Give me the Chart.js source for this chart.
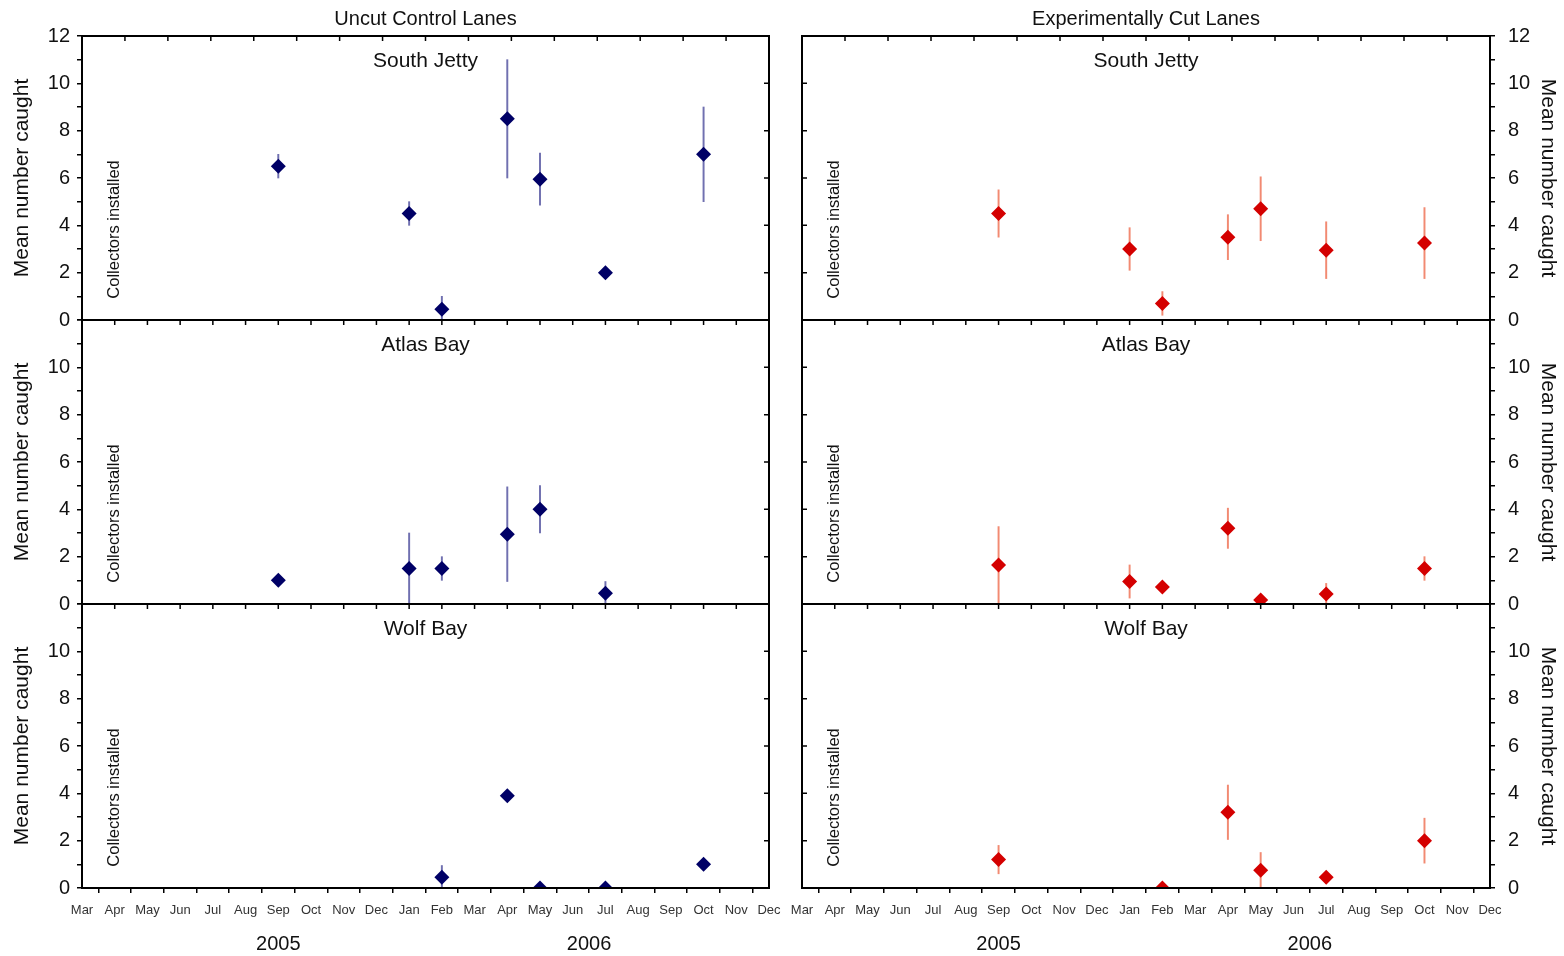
<!DOCTYPE html>
<html>
<head>
<meta charset="utf-8">
<script src="https://cdn.jsdelivr.net/npm/chart.js@4.4.1/dist/chart.umd.min.js"></script>
<style>
  body { margin: 0; background: #fff; }
  #fig { position: relative; width: 1564px; height: 956px; overflow: hidden; background: #fff; }
  #fig canvas { position: absolute; }
</style>
</head>
<body>
<div id="fig"></div>
<script>
// month index 0 = Mar 2005 ... 21 = Dec 2006
var months = ["Mar","Apr","May","Jun","Jul","Aug","Sep","Oct","Nov","Dec","Jan","Feb",
              "Mar","Apr","May","Jun","Jul","Aug","Sep","Oct","Nov","Dec"];
var years = ["2005", "2006"];
var yearAt = [6, 15.5];
var sites = ["South Jetty", "Atlas Bay", "Wolf Bay"];
var groups = ["Uncut Control Lanes", "Experimentally Cut Lanes"];
var installedAt = 1;

// Uncut control lanes
var uncutSJx = [6, 10, 11, 13, 14, 16, 19];
var uncutSJ = [6.5, 4.5, 0.45, 8.5, 5.95, 2.0, 7.0];
var uncutSJerr = [0.5, 0.5, 0.55, 2.5, 1.1, 0.05, 2.0];

var uncutABx = [6, 10, 11, 13, 14, 16];
var uncutAB = [1.0, 1.5, 1.5, 2.95, 4.0, 0.45];
var uncutABerr = [0.1, 1.5, 0.5, 2.0, 1.0, 0.5];

var uncutWBx = [11, 13, 14, 16, 19];
var uncutWB = [0.45, 3.9, 0, 0, 1.0];
var uncutWBerr = [0.5, 0.05, 0, 0, 0.05];

// Experimentally cut lanes
var cutSJx = [6, 10, 11, 13, 14, 16, 19];
var cutSJ = [4.5, 3.0, 0.7, 3.5, 4.7, 2.95, 3.25];
var cutSJerr = [1.0, 0.9, 0.5, 0.95, 1.35, 1.2, 1.5];

var cutABx = [6, 10, 11, 13, 14, 16, 19];
var cutAB = [1.65, 0.95, 0.72, 3.2, 0.17, 0.42, 1.5];
var cutABerr = [1.62, 0.7, 0.15, 0.85, 0.15, 0.45, 0.5];

var cutWBx = [6, 11, 13, 14, 16, 19];
var cutWB = [1.2, 0, 3.2, 0.75, 0.45, 2.0];
var cutWBerr = [0.6, 0, 1.15, 0.75, 0.25, 0.95];

var pointColors = ["#000066", "#d40000"];
var errColors = ["#7070b0", "#f28a72"];
var FONT = "'Liberation Sans', Arial, sans-serif";

// frame, inner ticks, titles, notes
var panelDecor = {
  id: "panelDecor",
  afterDraw: function (chart, args, opts) {
    var ctx = chart.ctx, a = chart.chartArea;
    var xs = chart.scales.x, ys = chart.scales.y;
    ctx.save();
    ctx.strokeStyle = "#000";
    ctx.lineWidth = 2;
    ctx.strokeRect(a.left, a.top, a.right - a.left, a.bottom - a.top);

    ctx.lineWidth = 1.5;
    ctx.beginPath();
    if (opts.row === 0) {
      for (var k = 1; k < 16; k++) {
        var tx = xs.getPixelForValue(21 * k / 16);
        ctx.moveTo(tx, a.top); ctx.lineTo(tx, a.top + 5);
      }
    } else {
      for (var m = 1; m < 21; m++) {
        var mx = xs.getPixelForValue(m);
        ctx.moveTo(mx, a.top); ctx.lineTo(mx, a.top + 5);
      }
    }
    [2, 4, 6, 8, 10].forEach(function (v) {
      var ty = ys.getPixelForValue(v);
      if (opts.col === 0) { ctx.moveTo(a.right, ty); ctx.lineTo(a.right - 5, ty); }
      else { ctx.moveTo(a.left, ty); ctx.lineTo(a.left + 5, ty); }
    });
    ctx.stroke();

    ctx.fillStyle = "#111";
    ctx.textAlign = "center";
    ctx.textBaseline = "middle";
    ctx.font = "21px " + FONT;
    var cx = (a.left + a.right) / 2;
    ctx.fillText(sites[opts.row], cx, a.top + 25);
    ctx.font = "20px " + FONT;
    if (opts.row === 0) ctx.fillText(groups[opts.col], cx, 19);
    if (opts.row === 2) {
      years.forEach(function (yr, i) {
        ctx.fillText(yr, xs.getPixelForValue(yearAt[i]), 944 - 584);
      });
    }

    ctx.save();
    ctx.translate(xs.getPixelForValue(installedAt), ys.getPixelForValue(0.9));
    ctx.rotate(-Math.PI / 2);
    ctx.textAlign = "left";
    ctx.font = "16.5px " + FONT;
    ctx.fillText("Collectors installed", 0, 0);
    ctx.restore();
    ctx.restore();
  }
};

// canvas boxes for each column / row
var canvasX = [0, 780], canvasW = [790, 784];
var canvasY = [0, 300, 584], canvasH = [340, 320, 372];
var padX = [{left: 0, right: 21}, {left: 22, right: 0}];
var padY = [{top: 36, bottom: 20}, {top: 20, bottom: 16}, {top: 20, bottom: 0}];

function makePanel(col, row, xv, yv, ev) {
  var fig = document.getElementById("fig");
  var cv = document.createElement("canvas");
  cv.width = canvasW[col];
  cv.height = canvasH[row];
  cv.style.left = canvasX[col] + "px";
  cv.style.top = canvasY[row] + "px";
  fig.appendChild(cv);

  var axisGrid = { drawOnChartArea: false, drawTicks: true, tickLength: 5, color: "#000", lineWidth: 1.5 };

  new Chart(cv, {
    type: "scatter",
    data: {
      datasets: [{
        type: "scatter",
        data: xv.map(function (x, i) { return { x: x, y: yv[i] }; }),
        pointStyle: "rectRot",
        pointRadius: 7.5,
        backgroundColor: pointColors[col],
        borderColor: pointColors[col],
        borderWidth: 0,
        order: 0
      }, {
        type: "bar",
        data: xv.map(function (x, i) { return { x: x, y: [Math.max(0, yv[i] - ev[i]), yv[i] + ev[i]] }; }),
        backgroundColor: errColors[col],
        barThickness: 1.3,
        grouped: false,
        order: 1
      }]
    },
    options: {
      responsive: false,
      animation: false,
      events: [],
      layout: { padding: { left: padX[col].left, right: padX[col].right, top: padY[row].top, bottom: padY[row].bottom } },
      plugins: { legend: { display: false }, tooltip: { enabled: false }, panelDecor: { col: col, row: row } },
      scales: {
        x: {
          type: "linear", min: 0, max: 21, offset: false,
          display: row === 2,
          ticks: {
            stepSize: 1, maxTicksLimit: 30, autoSkip: false, maxRotation: 0,
            font: { size: 13, family: FONT }, color: "#333", padding: 10,
            callback: function (v) { return months[v]; }
          },
          grid: axisGrid,
          border: { display: true, color: "#000", width: 2 },
          afterFit: row === 2 ? function (s) { s.height = 68; s.paddingLeft = 0; s.paddingRight = 0; } : undefined
        },
        y: {
          type: "linear", min: 0, max: 12,
          position: col === 0 ? "left" : "right",
          ticks: {
            stepSize: 1, maxTicksLimit: 20, autoSkip: false,
            font: { size: 20, family: FONT }, color: "#111",
            padding: col === 0 ? 7 : 13,
            align: "center",
            callback: function (v) { return (v % 2 === 0 && !(row > 0 && v === 12)) ? String(v) : ""; }
          },
          grid: axisGrid,
          border: { display: true, color: "#000", width: 2 },
          title: {
            display: true, text: "Mean number caught", color: "#111",
            font: { size: 21, family: FONT },
            padding: { top: col === 0 ? 10 : 4, bottom: 0 }
          },
          afterFit: function (s) { s.width = col === 0 ? 82 : 74; s.paddingTop = 0; s.paddingBottom = 0; }
        }
      }
    },
    plugins: [panelDecor]
  });
}

makePanel(0, 0, uncutSJx, uncutSJ, uncutSJerr);
makePanel(0, 1, uncutABx, uncutAB, uncutABerr);
makePanel(0, 2, uncutWBx, uncutWB, uncutWBerr);
makePanel(1, 0, cutSJx, cutSJ, cutSJerr);
makePanel(1, 1, cutABx, cutAB, cutABerr);
makePanel(1, 2, cutWBx, cutWB, cutWBerr);
</script>
</body>
</html>
